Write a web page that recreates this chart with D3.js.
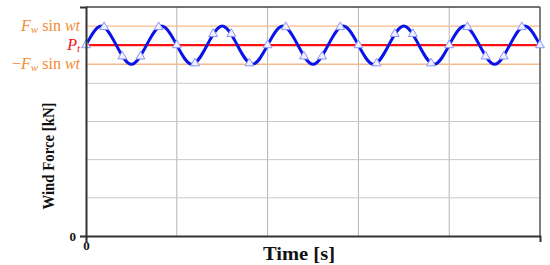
<!DOCTYPE html>
<html>
<head>
<meta charset="utf-8">
<script src="https://cdn.jsdelivr.net/npm/d3@7"></script>
<style>
  body { margin: 0; background: #fff; }
  svg { display: block; }
  text { font-family: "Liberation Serif", "DejaVu Serif", serif; }
</style>
</head>
<body>
<svg id="chart" width="550" height="265"></svg>
<script>
// ── Data ─────────────────────────────────────────────────────────────────────

// time axis: 0..30, grid every 6 (5 cells), one period = 4
const timeDomain  = [0, 30];
const timeGrid    = [6, 12, 18, 24];
const timeTicks   = [0];

// force axis: 0..12, grid every 2
const forceDomain = [0, 12];
const forceGrid   = [2, 4, 6, 8];
const forceTicks  = [0];

const meanForce   = 10;          // P_t
const upperForce  = 11;          // P_t + F_w
const lowerForce  = 9;           // P_t - F_w

// curve read at every quarter period (t = 0, 1, 2, ... 30)
const curveValues = [10, 11, 10, 9, 10, 11, 10, 9, 10, 11, 10, 9, 10, 11, 10, 9,
                     10, 11, 10, 9, 10, 11, 10, 9, 10, 11, 10, 9, 10, 11, 10];

// triangle markers, every 1.2 s
const markerStep   = 1.2;
const markerValues = [10, 10.95, 9.41, 9.41, 10.95, 10, 9.05, 10.59, 10.59, 9.05,
                      10, 10.95, 9.41, 9.41, 10.95, 10, 9.05, 10.59, 10.59, 9.05,
                      10, 10.95, 9.41, 9.41, 10.95, 10];

// ── Setup ────────────────────────────────────────────────────────────────────

const W = 550, H = 265;
const m = { top: 7, right: 10, bottom: 29, left: 86 };

const svg = d3.select('#chart');

const x = d3.scaleLinear().domain(timeDomain).range([m.left, W - m.right]);
const y = d3.scaleLinear().domain(forceDomain).range([H - m.bottom, m.top]);

const g = svg.append('g');

// grid
g.selectAll('.vgrid').data(timeGrid).join('line')
  .attr('x1', d => x(d)).attr('x2', d => x(d))
  .attr('y1', y(forceDomain[0])).attr('y2', y(forceDomain[1]))
  .attr('stroke', '#b4b4b4').attr('stroke-width', 1);

g.selectAll('.hgrid').data(forceGrid).join('line')
  .attr('x1', x(timeDomain[0])).attr('x2', x(timeDomain[1]))
  .attr('y1', d => y(d)).attr('y2', d => y(d))
  .attr('stroke', '#c8c8c8').attr('stroke-width', 1);

// orange amplitude lines
g.selectAll('.amp').data([upperForce, lowerForce]).join('line')
  .attr('x1', x(timeDomain[0])).attr('x2', x(timeDomain[1]))
  .attr('y1', d => y(d)).attr('y2', d => y(d))
  .attr('stroke', '#f7b98c').attr('stroke-width', 1.3);

// frame (top + right)
g.append('line')
  .attr('x1', x(timeDomain[0])).attr('x2', x(timeDomain[1]))
  .attr('y1', y(forceDomain[1])).attr('y2', y(forceDomain[1]))
  .attr('stroke', '#444').attr('stroke-width', 1.5);
g.append('line')
  .attr('x1', x(timeDomain[1])).attr('x2', x(timeDomain[1]))
  .attr('y1', y(forceDomain[0])).attr('y2', y(forceDomain[1]))
  .attr('stroke', '#555').attr('stroke-width', 1.5);

// P_t line
g.append('line')
  .attr('x1', x(timeDomain[0])).attr('x2', x(timeDomain[1]))
  .attr('y1', y(meanForce)).attr('y2', y(meanForce))
  .attr('stroke', '#ff1010').attr('stroke-width', 2.2);

// sine curve
const line = d3.line()
  .x((d, i) => x(i))
  .y(d => y(d))
  .curve(d3.curveNatural);

g.append('path')
  .datum(curveValues)
  .attr('d', line)
  .attr('fill', 'none')
  .attr('stroke', '#0a14e6')
  .attr('stroke-width', 3);

// markers
const tri = d3.symbol().type(d3.symbolTriangle).size(34);
g.selectAll('.mk').data(markerValues).join('path')
  .attr('transform', (d, i) => `translate(${x(i * markerStep)},${y(d)})`)
  .attr('d', tri)
  .attr('fill', '#eef0ff')
  .attr('stroke', '#8c96f5')
  .attr('stroke-width', 1);

// axes
const xAxis = g.append('g')
  .attr('transform', `translate(0,${y(forceDomain[0])})`)
  .call(d3.axisBottom(x).tickValues(timeTicks).tickSize(6).tickFormat(d3.format('d')));
const yAxis = g.append('g')
  .attr('transform', `translate(${x(timeDomain[0])},0)`)
  .call(d3.axisLeft(y).tickValues(forceTicks).tickSize(6).tickFormat(d3.format('d')));

[xAxis, yAxis].forEach(a => {
  a.select('.domain').attr('stroke', '#333').attr('stroke-width', 2);
  a.selectAll('.tick line').attr('stroke', '#333').attr('stroke-width', 1.2);
  a.selectAll('.tick text')
    .style('font-family', '"Liberation Serif", serif')
    .style('font-weight', 'bold').style('font-size', '13px').attr('fill', '#111');
});
xAxis.selectAll('.tick text').attr('y', 5).attr('dy', '0.71em');
yAxis.selectAll('.tick text').attr('x', -10);

// ── Reference labels on the left ─────────────────────────────────────────────

function mathLabel(yv, parts, color) {
  const t = svg.append('text')
    .attr('x', m.left - 6).attr('y', y(yv))
    .attr('dy', '0.3em')
    .attr('text-anchor', 'end')
    .attr('fill', color)
    .style('font-size', '16px');
  parts.forEach(p => {
    const s = t.append('tspan').text(p.t);
    if (p.i) s.style('font-style', 'italic');
    if (p.sub) s.attr('baseline-shift', '-20%').style('font-size', '11px');
  });
}

const orange = '#f28a32';
mathLabel(upperForce, [{ t: 'F', i: 1 }, { t: 'w', i: 1, sub: 1 }, { t: ' sin ' }, { t: 'wt', i: 1 }], orange);
mathLabel(meanForce,  [{ t: 'P', i: 1 }, { t: 't', i: 1, sub: 1 }], '#f01414');
mathLabel(lowerForce, [{ t: '−' }, { t: 'F', i: 1 }, { t: 'w', i: 1, sub: 1 }, { t: ' sin ' }, { t: 'wt', i: 1 }], orange);

// ── Axis titles ──────────────────────────────────────────────────────────────

svg.append('text')
  .attr('x', 299).attr('y', 260)
  .attr('text-anchor', 'middle')
  .attr('textLength', 72).attr('lengthAdjust', 'spacingAndGlyphs')
  .style('font-size', '18px').style('font-weight', 'bold')
  .attr('fill', '#111')
  .text('Time [s]');

svg.append('text')
  .attr('transform', 'translate(54,156) rotate(-90)')
  .attr('text-anchor', 'middle')
  .attr('textLength', 107).attr('lengthAdjust', 'spacingAndGlyphs')
  .style('font-size', '16px').style('font-weight', 'bold')
  .attr('fill', '#111')
  .text('Wind Force [kN]');
</script>
</body>
</html>
